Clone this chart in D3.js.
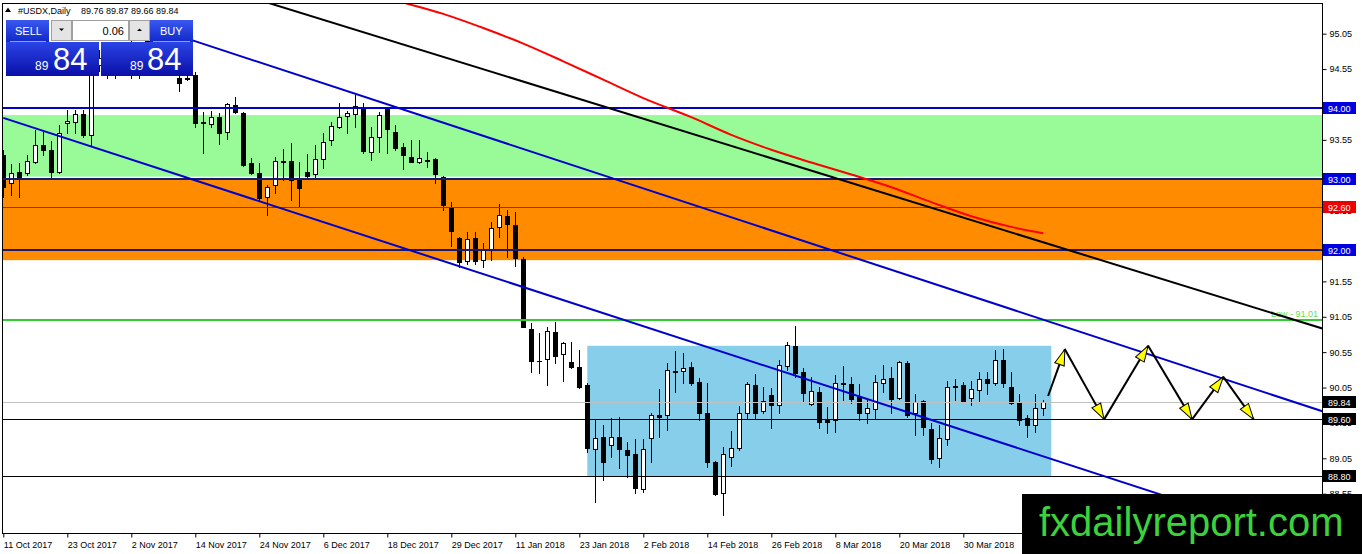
<!DOCTYPE html>
<html>
<head>
<meta charset="utf-8">
<script src="https://cdn.jsdelivr.net/npm/d3@7"></script>
<style>
  body { margin: 0; background: #fff; }
  text { font-family: "Liberation Sans", Arial, sans-serif; }
</style>
</head>
<body>
<div id="chart"></div>
<script>
// daily bars of #USDX, 11 Oct 2017 .. 13 Apr 2018 (bar index = position)
var opens = [93.34,92.94,93.10,93.08,93.24,93.48,93.41,93.10,93.79,93.80,
  93.92,93.62,94.61,94.70,94.62,94.68,94.86,94.70,94.80,94.95,
  94.75,94.58,94.42,94.41,94.47,93.79,93.77,93.87,93.66,94.04,
  93.93,93.22,93.08,92.74,92.91,93.24,93.25,92.98,93.10,93.07,
  93.28,93.55,93.73,93.89,93.92,94.01,93.38,93.59,93.99,93.66,
  93.45,93.31,93.24,93.25,93.28,93.02,92.60,92.16,91.84,92.16,
  91.85,92.01,92.32,92.47,92.35,91.87,90.88,90.43,90.45,90.84,
  90.52,90.41,90.34,90.09,89.18,89.35,89.24,89.35,89.17,89.11,
  88.62,89.34,89.66,89.66,90.28,90.28,90.34,90.13,89.69,89.00,
  88.56,89.07,89.20,89.69,90.09,89.72,89.94,89.80,90.35,90.64,
  90.27,89.82,89.99,89.59,89.59,90.11,90.10,89.92,89.69,89.75,
  90.11,90.18,89.90,90.40,89.69,89.86,89.46,89.05,89.32,90.06,
  90.09,89.90,90.02,90.17,90.11,90.44,90.06,89.83,89.62,89.52,
  89.76];
var highs = [93.41,93.21,93.22,93.34,93.69,93.66,93.53,93.76,93.97,93.97,
  93.97,94.75,94.82,94.85,94.78,94.92,95.00,94.88,95.10,95.05,
  94.90,94.80,94.60,94.55,94.51,93.94,93.96,93.93,94.07,94.16,
  93.94,93.29,93.22,92.91,93.31,93.42,93.51,93.24,93.35,93.48,
  93.65,93.80,94.07,93.96,94.18,94.07,93.73,93.94,94.00,93.76,
  93.51,93.55,93.55,93.38,93.29,93.04,92.67,92.18,92.25,92.25,
  92.09,92.39,92.64,92.56,92.53,91.89,90.96,90.82,90.91,90.98,
  90.69,90.69,90.58,90.11,89.59,89.52,89.62,89.63,89.28,89.32,
  89.32,89.69,90.03,90.40,90.57,90.54,90.41,90.18,90.11,89.01,
  89.21,89.44,89.79,90.13,90.24,90.06,90.04,90.44,90.69,90.92,
  90.33,90.20,90.06,89.77,90.23,90.35,90.20,90.10,89.87,90.23,
  90.37,90.34,90.43,90.43,89.96,89.87,89.55,89.52,90.14,90.17,
  90.13,90.14,90.27,90.27,90.58,90.59,90.27,89.96,89.66,89.96,
  89.87];
var lows = [92.74,92.77,92.74,93.05,93.22,93.34,93.02,93.08,93.65,93.65,
  93.59,93.48,94.52,94.42,94.42,94.55,94.42,94.43,94.60,94.65,
  94.50,94.48,94.24,94.40,93.73,93.36,93.73,93.49,93.56,93.93,
  93.18,93.07,92.70,92.49,92.80,92.98,92.70,92.60,93.03,93.02,
  93.15,93.48,93.72,93.65,93.73,93.36,93.27,93.38,93.36,93.41,
  93.14,93.23,93.22,93.17,92.94,92.56,92.05,91.75,91.80,91.80,
  91.75,91.85,92.18,91.89,91.77,90.90,90.27,90.26,90.09,90.40,
  90.14,90.33,90.04,89.14,88.43,88.74,89.07,88.91,88.78,88.56,
  88.57,89.00,89.35,89.45,89.99,90.11,90.09,89.59,88.93,88.53,
  88.25,88.94,89.17,89.62,89.62,89.69,89.48,89.69,90.30,90.20,
  89.85,89.80,89.48,89.41,89.42,89.87,89.83,89.59,89.55,89.62,
  89.99,89.69,89.89,89.63,89.38,89.38,88.98,88.93,89.24,89.87,
  89.85,89.80,89.85,89.96,90.09,90.06,89.82,89.52,89.35,89.42,
  89.66];
var closes = [92.88,93.08,93.02,93.25,93.48,93.41,93.10,93.65,93.82,93.92,
  93.62,94.61,94.70,94.62,94.68,94.86,94.70,94.80,94.95,94.75,
  94.58,94.62,94.35,94.42,93.79,93.80,93.87,93.65,94.06,93.94,
  93.19,93.08,92.73,92.88,93.25,93.25,92.98,92.87,93.04,93.28,
  93.52,93.75,93.87,93.93,94.03,93.39,93.59,93.90,93.70,93.43,
  93.34,93.24,93.29,93.26,93.07,92.63,92.26,91.82,92.15,91.84,
  91.99,92.30,92.49,92.36,91.88,90.91,90.43,90.42,90.85,90.50,
  90.68,90.34,90.06,89.20,89.34,89.00,89.35,89.18,89.10,88.63,
  89.18,89.66,89.63,90.30,90.27,90.33,90.11,89.69,89.00,88.55,
  89.11,89.20,89.69,90.10,89.69,89.86,89.80,90.37,90.65,90.26,
  89.97,90.00,89.56,89.56,90.11,90.10,89.89,89.69,89.76,90.13,
  90.17,89.89,90.41,89.66,89.85,89.49,89.04,89.34,90.06,90.07,
  89.86,90.03,90.17,90.11,90.44,90.11,89.83,89.59,89.52,89.76,
  89.84];

var dateLabels = ["11 Oct 2017","23 Oct 2017","2 Nov 2017","14 Nov 2017","24 Nov 2017",
  "6 Dec 2017","18 Dec 2017","29 Dec 2017","11 Jan 2018","23 Jan 2018","2 Feb 2018",
  "14 Feb 2018","26 Feb 2018","8 Mar 2018","20 Mar 2018","30 Mar 2018"];
var labelStep = 8;
var priceTicks = [95.05,94.55,93.55,92.55,91.55,91.05,90.55,90.05,89.55,89.05,88.55];

// drawn objects
var greenZone = [93.03, 93.90];
var orangeZone = [91.85, 92.99];
var rangeBars = [73, 131];
var rangePrices = [88.80, 90.64];
var blueLevels = [94.00];
var navyLevels = [93.00, 92.00];
var redLevel = 92.60;
var lowLevel = 91.01;
var bidLevel = 89.84;
var blackLevels = [89.60, 88.80];
var upperChannel = [[23, 94.98], [165, 89.71]];
var lowerChannel = [[0, 93.86], [165, 87.79]];
var blackTrend = [[33, 95.49], [165, 90.88]];
var maBars = [46,50,55,60,65,70,75,80,86,91,96,101,106,111,116,121,126,130];
var maValues = [95.62,95.49,95.33,95.13,94.91,94.66,94.40,94.14,93.87,93.62,93.41,93.23,93.06,92.88,92.67,92.47,92.32,92.23];
var arrowBars = [130.6,132.7,137.6,143.1,148.6,152.5,156.3];
var arrowPrices = [89.93,90.59,89.60,90.64,89.60,90.20,89.60];

var W = 1362, H = 554;
var pL = 2, pT = 3, pR = 1322, pB = 533;

var x = d3.scaleLinear().domain([0, 130]).range([3.3, 1043.3]);
var y = d3.scaleLinear().domain([94, 88.8]).range([108, 476]);

var svg = d3.select("#chart").append("svg")
    .attr("width", W).attr("height", H)
    .style("display", "block");

var defs = svg.append("defs");
defs.append("clipPath").attr("id", "plot")
  .append("rect").attr("x", pL).attr("y", pT)
  .attr("width", pR - pL).attr("height", pB - pT);

var g1 = defs.append("linearGradient").attr("id", "btn").attr("x1", 0).attr("y1", 0).attr("x2", 0).attr("y2", 1);
g1.append("stop").attr("offset", "0%").attr("stop-color", "#3a58f0");
g1.append("stop").attr("offset", "100%").attr("stop-color", "#1028c8");
var g2 = defs.append("linearGradient").attr("id", "px").attr("x1", 0).attr("y1", 0).attr("x2", 0).attr("y2", 1);
g2.append("stop").attr("offset", "0%").attr("stop-color", "#2a44e6");
g2.append("stop").attr("offset", "100%").attr("stop-color", "#0a0fa8");

defs.append("marker").attr("id", "head")
    .attr("markerUnits", "userSpaceOnUse")
    .attr("viewBox", "-17 -6 18 12")
    .attr("refX", 0).attr("refY", 0)
    .attr("markerWidth", 18).attr("markerHeight", 12)
    .attr("orient", "auto")
  .append("path")
    .attr("d", "M0,0L-16,-5L-16,5Z")
    .attr("fill", "#ffff00").attr("stroke", "#000").attr("stroke-width", 1);

var plot = svg.append("g").attr("clip-path", "url(#plot)");

// zones
function zone(p, fill) {
  plot.append("rect")
    .attr("x", pL).attr("width", pR - pL)
    .attr("y", y(p[1])).attr("height", y(p[0]) - y(p[1]))
    .attr("fill", fill);
}
zone(greenZone, "#98fb98");
zone(orangeZone, "#ff8c00");
plot.append("rect")
  .attr("x", x(rangeBars[0])).attr("width", x(rangeBars[1]) - x(rangeBars[0]))
  .attr("y", y(rangePrices[1])).attr("height", y(rangePrices[0]) - y(rangePrices[1]))
  .attr("fill", "#87ceeb");

// candles
var bars = d3.range(opens.length).map(function(i) {
  return {i: i, o: opens[i], h: highs[i], l: lows[i], c: closes[i]};
});
var cg = plot.append("g");
bars.forEach(function(d) {
  var cx = Math.round(x(d.i)) + 0.5;
  cg.append("line")
    .attr("x1", cx).attr("x2", cx)
    .attr("y1", Math.round(y(d.h))).attr("y2", Math.round(y(d.l)) + 1)
    .attr("stroke", "#000").attr("stroke-width", 1);
  var t = Math.round(y(Math.max(d.o, d.c))), b = Math.round(y(Math.min(d.o, d.c)));
  if (d.c >= d.o) {
    cg.append("rect")
      .attr("x", cx - 2).attr("y", t + 0.5)
      .attr("width", 4).attr("height", Math.max(0, b - t))
      .attr("fill", "#fff").attr("stroke", "#000").attr("stroke-width", 1);
  } else {
    cg.append("rect")
      .attr("x", cx - 2.5).attr("y", t)
      .attr("width", 5).attr("height", Math.max(1, b - t + 1))
      .attr("fill", "#000");
  }
});

// horizontal levels
function hline(p, color, w) {
  var yy = Math.round(y(p)) + (w % 2 ? 0.5 : 0);
  plot.append("line")
    .attr("x1", pL).attr("x2", pR).attr("y1", yy).attr("y2", yy)
    .attr("stroke", color).attr("stroke-width", w);
}
hline(bidLevel, "#c0c0c0", 1);
blackLevels.forEach(function(p) { hline(p, "#000", 1); });
hline(redLevel, "#ff0000", 1);
hline(lowLevel, "#32cd32", 2);
blueLevels.forEach(function(p) { hline(p, "#0000cd", 2); });
navyLevels.forEach(function(p) { hline(p, "#191970", 2); });

plot.append("text")
  .attr("x", 1318).attr("y", y(lowLevel) - 3)
  .attr("text-anchor", "end")
  .attr("font-size", 9).attr("fill", "#66e04a")
  .text("Low - " + lowLevel.toFixed(2));

// trend lines
var lineGen = d3.line().x(function(d) { return x(d[0]); }).y(function(d) { return y(d[1]); });
plot.append("path").attr("d", lineGen(blackTrend))
  .attr("fill", "none").attr("stroke", "#000").attr("stroke-width", 2);
plot.append("path").attr("d", lineGen(upperChannel))
  .attr("fill", "none").attr("stroke", "#0000cd").attr("stroke-width", 2);
plot.append("path").attr("d", lineGen(lowerChannel))
  .attr("fill", "none").attr("stroke", "#0000cd").attr("stroke-width", 2);

// moving average
var maLine = d3.line().curve(d3.curveMonotoneX)
  .x(function(d, i) { return x(maBars[i]); })
  .y(function(d) { return y(d); });
plot.append("path").attr("d", maLine(maValues))
  .attr("fill", "none").attr("stroke", "#ff0000").attr("stroke-width", 2);

// projected zigzag arrows
for (var k = 0; k < arrowBars.length - 1; k++) {
  plot.append("line")
    .attr("x1", x(arrowBars[k])).attr("y1", y(arrowPrices[k]))
    .attr("x2", x(arrowBars[k + 1])).attr("y2", y(arrowPrices[k + 1]))
    .attr("stroke", "#000").attr("stroke-width", 2)
    .attr("marker-end", "url(#head)");
}

// frame
svg.append("rect")
  .attr("x", pL + 0.5).attr("y", pT + 0.5)
  .attr("width", pR - pL).attr("height", pB - pT)
  .attr("fill", "none").attr("stroke", "#000").attr("stroke-width", 1);

// price axis
var yAxis = svg.append("g")
  .attr("transform", "translate(" + (pR + 0.5) + ",0)")
  .call(d3.axisRight(y).tickValues(priceTicks).tickSize(4).tickPadding(3)
        .tickFormat(d3.format(".2f")));
yAxis.select(".domain").remove();
yAxis.selectAll("text").attr("font-size", 9).attr("font-family", "Liberation Sans, Arial, sans-serif").attr("fill", "#000");

// time axis
var tickBars = dateLabels.map(function(d, i) { return i * labelStep; });
var xAxis = svg.append("g")
  .attr("transform", "translate(0," + (pB + 0.5) + ")")
  .call(d3.axisBottom(x).tickValues(tickBars).tickSize(4).tickPadding(4)
        .tickFormat(function(d, i) { return dateLabels[i]; }));
xAxis.select(".domain").remove();
xAxis.selectAll("text").attr("text-anchor", "start").attr("x", 0)
  .attr("font-size", 9).attr("font-family", "Liberation Sans, Arial, sans-serif").attr("fill", "#000");

// level tags on the price axis
var tags = [
  {v: 94.00, bg: "#0000e0"}, {v: 93.00, bg: "#0000e0"}, {v: redLevel, bg: "#ee0000"},
  {v: 92.00, bg: "#0000e0"}, {v: bidLevel, bg: "#000"}, {v: 89.60, bg: "#000"}, {v: 88.80, bg: "#000"}
];
tags.forEach(function(t) {
  var yy = Math.round(y(t.v));
  svg.append("rect").attr("x", pR + 1).attr("y", yy - 6)
    .attr("width", 33).attr("height", 12).attr("fill", t.bg);
  svg.append("text").attr("x", pR + 6).attr("y", yy + 3.5)
    .attr("font-size", 9).attr("fill", "#fff").text(t.v.toFixed(2));
});

// title
svg.append("path").attr("d", "M5,12L8,7.5L11,12Z").attr("fill", "#000");
svg.append("text").attr("x", 18).attr("y", 14).attr("font-size", 9).attr("fill", "#000")
  .text("#USDX,Daily");
var last = opens.length - 1;
svg.append("text").attr("x", 81).attr("y", 14).attr("font-size", 9).attr("fill", "#000")
  .text([opens[last], highs[last], lows[last], closes[last]].map(function(v) { return v.toFixed(2); }).join(" "));

// one-click trading panel
var panel = svg.append("g");
panel.append("rect").attr("x", 6).attr("y", 20).attr("width", 43).attr("height", 22).attr("fill", "url(#btn)");
panel.append("rect").attr("x", 150).attr("y", 20).attr("width", 43).attr("height", 22).attr("fill", "url(#btn)");
panel.append("line").attr("x1", 10).attr("x2", 46).attr("y1", 41.5).attr("y2", 41.5).attr("stroke", "#8c9cf0");
panel.append("line").attr("x1", 153).attr("x2", 190).attr("y1", 41.5).attr("y2", 41.5).attr("stroke", "#8c9cf0");
panel.append("text").attr("x", 15).attr("y", 35).attr("font-size", 11).attr("fill", "#fff").text("SELL");
panel.append("text").attr("x", 160).attr("y", 35).attr("font-size", 11).attr("fill", "#fff").text("BUY");
panel.append("rect").attr("x", 51.5).attr("y", 20.5).attr("width", 20).attr("height", 20)
  .attr("fill", "#e4e4e4").attr("stroke", "#a0a0a0");
panel.append("rect").attr("x", 72.5).attr("y", 20.5).attr("width", 56).attr("height", 20)
  .attr("fill", "#fff").attr("stroke", "#a0a0a0");
panel.append("rect").attr("x", 129.5).attr("y", 20.5).attr("width", 20).attr("height", 20)
  .attr("fill", "#e4e4e4").attr("stroke", "#a0a0a0");
panel.append("path").attr("d", "M59,28.5L64,28.5L61.5,31Z").attr("fill", "#000");
panel.append("path").attr("d", "M137,31L142,31L139.5,28.5Z").attr("fill", "#000");
panel.append("text").attr("x", 124).attr("y", 35).attr("text-anchor", "end")
  .attr("font-size", 11).attr("fill", "#000").text("0.06");
panel.append("rect").attr("x", 6).attr("y", 42).attr("width", 93).attr("height", 34).attr("fill", "url(#px)");
panel.append("rect").attr("x", 101).attr("y", 42).attr("width", 92).attr("height", 34).attr("fill", "url(#px)");
var bidStr = closes[last].toFixed(2).split(".");
[[35, 53], [130, 147]].forEach(function(p) {
  panel.append("text").attr("x", p[0]).attr("y", 70).attr("font-size", 12)
    .attr("fill", "#fff").text(bidStr[0]);
  panel.append("text").attr("x", p[1]).attr("y", 70).attr("font-size", 31)
    .attr("fill", "#fff").text(bidStr[1]);
});

// watermark
svg.append("rect").attr("x", 1022).attr("y", 494).attr("width", 340).attr("height", 60).attr("fill", "#000");
svg.append("text").attr("x", 1039).attr("y", 536).attr("font-size", 40)
  .attr("fill", "#3cd23c").text("fxdailyreport.com");
</script>
</body>
</html>
